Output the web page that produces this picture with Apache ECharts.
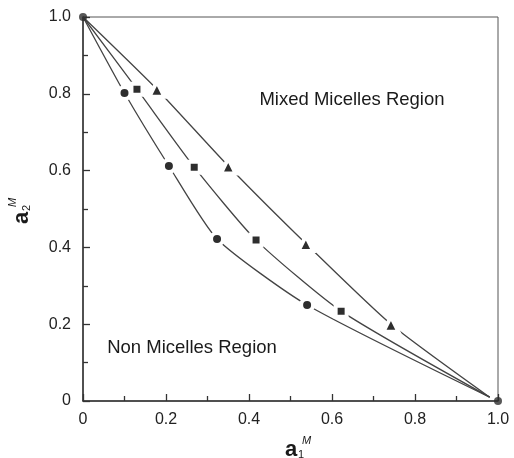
<!DOCTYPE html>
<html>
<head>
<meta charset="utf-8">
<script src="https://cdn.jsdelivr.net/npm/echarts@6/dist/echarts.min.js"></script>
<style>
  html, body { margin: 0; padding: 0; background: #fff; }
  #chart { width: 514px; height: 458px; }
</style>
</head>
<body>
<div id="chart"></div>
<script>
// values (a1^M, a2^M)
const startPoint = [0, 1.0];
const endPoint = [0.98, 0.01];
const circleX = [0.10, 0.207, 0.323, 0.54];
const circleY = [0.802, 0.612, 0.422, 0.25];
const squareX = [0.13, 0.268, 0.417, 0.622];
const squareY = [0.812, 0.609, 0.419, 0.234];
const triangleX = [0.178, 0.35, 0.537, 0.742];
const triangleY = [0.812, 0.612, 0.41, 0.2];
const cornerX = [0, 1.0];
const cornerY = [1.0, 0];

const FONT = "'Liberation Sans', Arial, sans-serif";
const LINE = "#444";
const MARK = "#2e2e2e";

const curve = (xs, ys) => [
  { value: startPoint, symbol: "none" },
  ...xs.map((x, i) => [x, ys[i]]),
  { value: endPoint, symbol: "none" },
];

const lineSeries = (name, xs, ys, symbol, size, border) => ({
  name,
  type: "line",
  data: curve(xs, ys),
  smooth: 0.2,
  symbol,
  symbolSize: size,
  showAllSymbol: true,
  lineStyle: { color: LINE, width: 1.3 },
  itemStyle: { color: MARK, borderColor: "#fff", borderWidth: border },
  z: 3,
});

const chart = echarts.init(document.getElementById("chart"));

const axisCommon = {
  type: "value",
  min: 0,
  max: 1,
  interval: 0.2,
  axisLine: { show: true, lineStyle: { color: "#333", width: 1.5 } },
  axisTick: { show: true, inside: true, length: 7, lineStyle: { color: "#333", width: 1.3 } },
  minorTick: { show: true, splitNumber: 2, length: 5, lineStyle: { color: "#333", width: 1.3 } },
  splitLine: { show: false },
  axisLabel: {
    color: "#222",
    fontSize: 16,
    fontFamily: FONT,
    formatter: (v) => (v === 0 ? "0" : v.toFixed(1)),
  },
};

chart.setOption({
  animation: false,
  backgroundColor: "#fff",
  grid: {
    left: 83,
    right: 16,
    top: 17,
    bottom: 57,
    show: true,
    borderColor: "#555",
    borderWidth: 1,
  },
  xAxis: { ...axisCommon, axisLabel: { ...axisCommon.axisLabel, margin: 11 } },
  yAxis: { ...axisCommon, axisLabel: { ...axisCommon.axisLabel, margin: 12 } },
  series: [
    lineSeries("circle", circleX, circleY, "circle", 12, 4),
    lineSeries("square", squareX, squareY, "rect", 11, 4),
    lineSeries("triangle", triangleX, triangleY, "triangle", 15, 4),
    {
      type: "scatter",
      data: cornerX.map((x, i) => [x, cornerY[i]]),
      symbol: "circle",
      symbolSize: 8,
      itemStyle: { color: MARK },
      z: 4,
    },
  ],
  graphic: [
    {
      type: "text",
      x: 352, y: 100,
      style: { text: "Mixed Micelles Region", font: `18.5px ${FONT}`, fill: "#1a1a1a", align: "center", verticalAlign: "middle" },
    },
    {
      type: "text",
      x: 192, y: 348,
      style: { text: "Non Micelles Region", font: `18.5px ${FONT}`, fill: "#1a1a1a", align: "center", verticalAlign: "middle" },
    },
    // x axis name a1^M
    {
      type: "group",
      x: 291, y: 450,
      children: [
        { type: "text", x: 0, y: 0, style: { text: "a", font: `bold 22px ${FONT}`, fill: "#1a1a1a", align: "center", verticalAlign: "middle" } },
        { type: "text", x: 7, y: 5, style: { text: "1", font: `11px ${FONT}`, fill: "#1a1a1a", align: "left", verticalAlign: "middle" } },
        { type: "text", x: 11, y: -9, style: { text: "M", font: `italic 11px ${FONT}`, fill: "#1a1a1a", align: "left", verticalAlign: "middle" } },
      ],
    },
    // y axis name a2^M
    {
      type: "group",
      x: 22, y: 218,
      rotation: Math.PI / 2,
      children: [
        { type: "text", x: 0, y: 0, style: { text: "a", font: `bold 22px ${FONT}`, fill: "#1a1a1a", align: "center", verticalAlign: "middle" } },
        { type: "text", x: 7, y: 5, style: { text: "2", font: `11px ${FONT}`, fill: "#1a1a1a", align: "left", verticalAlign: "middle" } },
        { type: "text", x: 11, y: -9, style: { text: "M", font: `italic 11px ${FONT}`, fill: "#1a1a1a", align: "left", verticalAlign: "middle" } },
      ],
    },
  ],
});
</script>
</body>
</html>
